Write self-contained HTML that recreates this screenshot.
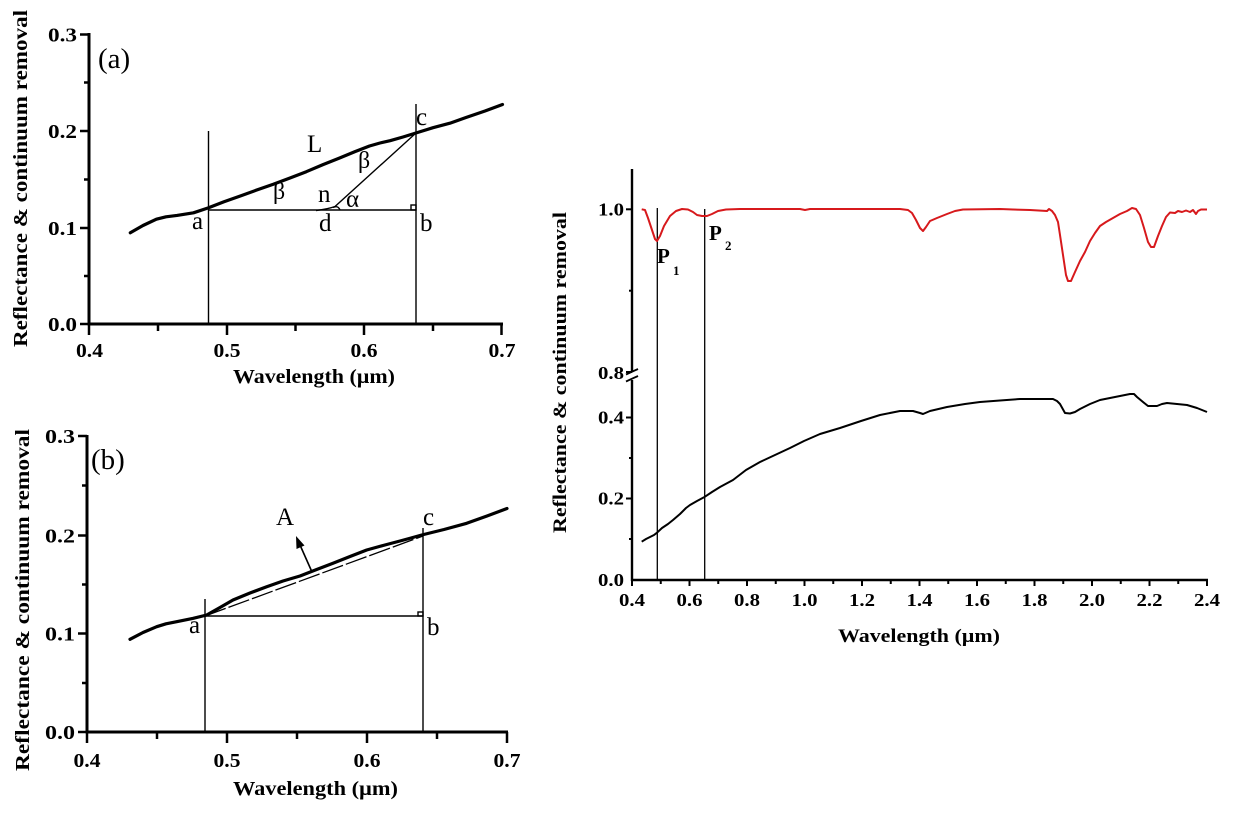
<!DOCTYPE html>
<html>
<head>
<meta charset="utf-8">
<style>
html,body{margin:0;padding:0;background:#fff;}
svg{display:block;}
.tk{font-family:"Liberation Serif",serif;font-weight:bold;}
.lb{font-family:"Liberation Serif",serif;font-weight:bold;}
.lt{font-family:"Liberation Serif",serif;}
</style>
</head>
<body>
<svg width="1240" height="816" viewBox="0 0 1240 816" xmlns="http://www.w3.org/2000/svg">
<rect width="1240" height="816" fill="#fff"/>

<!-- ================= PANEL (a) ================= -->
<g stroke="#000" fill="none">
  <!-- axes -->
  <line x1="89" y1="33" x2="89" y2="325.5" stroke-width="3"/>
  <line x1="87.5" y1="324" x2="503" y2="324" stroke-width="3"/>
  <!-- y ticks -->
  <g stroke-width="2.5">
    <line x1="80" y1="34.5" x2="89" y2="34.5"/>
    <line x1="80" y1="131" x2="89" y2="131"/>
    <line x1="80" y1="228" x2="89" y2="228"/>
    <line x1="80" y1="324" x2="89" y2="324"/>
    <line x1="84" y1="82.5" x2="89" y2="82.5"/>
    <line x1="84" y1="179.5" x2="89" y2="179.5"/>
    <line x1="84" y1="276" x2="89" y2="276"/>
  </g>
  <!-- x ticks -->
  <g stroke-width="2.5">
    <line x1="89" y1="324" x2="89" y2="335"/>
    <line x1="227" y1="324" x2="227" y2="335"/>
    <line x1="364" y1="324" x2="364" y2="335"/>
    <line x1="501.5" y1="324" x2="501.5" y2="335"/>
    <line x1="158" y1="324" x2="158" y2="331"/>
    <line x1="295.5" y1="324" x2="295.5" y2="331"/>
    <line x1="433" y1="324" x2="433" y2="331"/>
  </g>
  <!-- construction lines -->
  <g stroke-width="1.4">
    <line x1="208.5" y1="131" x2="208.5" y2="324"/>
    <line x1="416" y1="104" x2="416" y2="324"/>
    <line x1="208.5" y1="210" x2="416" y2="210"/>
    <rect x="411" y="205" width="5" height="5"/>
    <path d="M416,133 L335,206.5 Q328,209 316,210.5"/>
    <path d="M333,207.5 Q338,205 340,210"/>
  </g>
  <!-- curve -->
  <path stroke-width="3.2" stroke-linejoin="round" stroke-linecap="round"
   d="M130.3,232.8 L143,225.5 L156.4,219.2 L166,216.8 L177,215.4 L193.5,212.8 L207.9,208 L224,201.8 L240.3,196 L256,190.3 L273.3,184.3 L290,178 L306.3,171.7 L323,164.6 L339.3,158.1 L355,151.6 L369.5,146 L380,143 L390.1,140.7 L403,137 L416.3,132.9 L433,127.7 L449.9,123.2 L466,117.5 L485,111 L502.5,104.5"/>
</g>
<g class="tk" font-size="20" fill="#000" text-anchor="end">
  <text x="77" y="41.5" textLength="29" lengthAdjust="spacingAndGlyphs">0.3</text>
  <text x="77" y="138" textLength="29" lengthAdjust="spacingAndGlyphs">0.2</text>
  <text x="77" y="235" textLength="29" lengthAdjust="spacingAndGlyphs">0.1</text>
  <text x="77" y="331" textLength="29" lengthAdjust="spacingAndGlyphs">0.0</text>
</g>
<g class="tk" font-size="20" fill="#000" text-anchor="middle">
  <text x="89.5" y="357" textLength="27" lengthAdjust="spacingAndGlyphs">0.4</text>
  <text x="227" y="357" textLength="27" lengthAdjust="spacingAndGlyphs">0.5</text>
  <text x="364" y="357" textLength="27" lengthAdjust="spacingAndGlyphs">0.6</text>
  <text x="502" y="357" textLength="27" lengthAdjust="spacingAndGlyphs">0.7</text>
</g>
<text class="lb" font-size="20" x="233" y="383" textLength="162" lengthAdjust="spacingAndGlyphs">Wavelength (µm)</text>
<text class="lb" font-size="20" transform="translate(27,178.5) rotate(-90)" text-anchor="middle" textLength="337" lengthAdjust="spacingAndGlyphs">Reflectance &amp; continuum removal</text>
<g class="lt" fill="#000">
  <text x="98" y="68" font-size="29">(a)</text>
  <text x="307" y="152" font-size="25">L</text>
  <text x="416" y="125" font-size="25">c</text>
  <text x="358" y="168" font-size="24">β</text>
  <text x="273" y="199" font-size="24">β</text>
  <text x="318" y="202" font-size="25">n</text>
  <text x="346" y="207" font-size="25">α</text>
  <text x="192" y="229" font-size="25">a</text>
  <text x="319" y="231" font-size="25">d</text>
  <text x="420" y="231" font-size="25">b</text>
</g>

<!-- ================= PANEL (b) ================= -->
<g stroke="#000" fill="none">
  <line x1="87" y1="435" x2="87" y2="733.5" stroke-width="3"/>
  <line x1="85.5" y1="732" x2="508" y2="732" stroke-width="3"/>
  <g stroke-width="2.5">
    <line x1="78" y1="436" x2="87" y2="436"/>
    <line x1="78" y1="535.5" x2="87" y2="535.5"/>
    <line x1="78" y1="633.5" x2="87" y2="633.5"/>
    <line x1="78" y1="732" x2="87" y2="732"/>
    <line x1="82" y1="485.5" x2="87" y2="485.5"/>
    <line x1="82" y1="584.5" x2="87" y2="584.5"/>
    <line x1="82" y1="683" x2="87" y2="683"/>
  </g>
  <g stroke-width="2.5">
    <line x1="87" y1="732" x2="87" y2="743"/>
    <line x1="227" y1="732" x2="227" y2="743"/>
    <line x1="367" y1="732" x2="367" y2="743"/>
    <line x1="507" y1="732" x2="507" y2="743"/>
    <line x1="157" y1="732" x2="157" y2="739"/>
    <line x1="297" y1="732" x2="297" y2="739"/>
    <line x1="437" y1="732" x2="437" y2="739"/>
  </g>
  <g stroke-width="1.4">
    <line x1="205" y1="599" x2="205" y2="732"/>
    <line x1="423" y1="528" x2="423" y2="732"/>
    <line x1="205" y1="616" x2="423" y2="616"/>
    <rect x="418" y="612" width="5" height="4"/>
  </g>
  <line x1="205" y1="616" x2="423" y2="536" stroke-width="1.3" stroke-dasharray="22,3"/>
  <path stroke-width="3.2" stroke-linejoin="round" stroke-linecap="round"
   d="M130,639.3 L143,632.5 L156.7,626.7 L166,623.8 L176.7,621.7 L193.3,618.3 L206.7,615 L220,607.5 L233,600 L250,593 L266.7,586.7 L283,581 L300,576 L316,569.8 L333,563.3 L350,556.5 L366.7,550 L383,545.5 L400,541 L411,538 L421.7,535 L444,529.5 L466.7,523.3 L487,516 L507,508.5"/>
  <!-- arrow -->
  <line x1="312" y1="572" x2="300" y2="545" stroke-width="1.6"/>
</g>
<polygon points="296,536 304.5,545.5 296.5,549" fill="#000"/>
<g class="tk" font-size="20" fill="#000" text-anchor="end">
  <text x="75" y="443" textLength="30" lengthAdjust="spacingAndGlyphs">0.3</text>
  <text x="75" y="542.5" textLength="30" lengthAdjust="spacingAndGlyphs">0.2</text>
  <text x="75" y="640.5" textLength="30" lengthAdjust="spacingAndGlyphs">0.1</text>
  <text x="75" y="739" textLength="30" lengthAdjust="spacingAndGlyphs">0.0</text>
</g>
<g class="tk" font-size="20" fill="#000" text-anchor="middle">
  <text x="87" y="767" textLength="27" lengthAdjust="spacingAndGlyphs">0.4</text>
  <text x="227" y="767" textLength="27" lengthAdjust="spacingAndGlyphs">0.5</text>
  <text x="367" y="767" textLength="27" lengthAdjust="spacingAndGlyphs">0.6</text>
  <text x="507" y="767" textLength="27" lengthAdjust="spacingAndGlyphs">0.7</text>
</g>
<text class="lb" font-size="20" x="233" y="795" textLength="165" lengthAdjust="spacingAndGlyphs">Wavelength (µm)</text>
<text class="lb" font-size="20" transform="translate(29,600) rotate(-90)" text-anchor="middle" textLength="342" lengthAdjust="spacingAndGlyphs">Reflectance &amp; continuum removal</text>
<g class="lt" fill="#000">
  <text x="91" y="469" font-size="29">(b)</text>
  <text x="276" y="525" font-size="25">A</text>
  <text x="423" y="525" font-size="25">c</text>
  <text x="189" y="633" font-size="25">a</text>
  <text x="427" y="635" font-size="25">b</text>
</g>

<!-- ================= RIGHT PANEL ================= -->
<g stroke="#000" fill="none">
  <line x1="632" y1="169" x2="632" y2="371" stroke-width="2.4"/>
  <line x1="632" y1="380" x2="632" y2="581" stroke-width="2.4"/>
  <line x1="631" y1="580" x2="1208" y2="580" stroke-width="2.4"/>
  <!-- break marks -->
  <line x1="626" y1="374.5" x2="638" y2="369" stroke-width="1.8"/>
  <line x1="626" y1="381.5" x2="638" y2="376" stroke-width="1.8"/>
  <!-- y ticks -->
  <g stroke-width="2">
    <line x1="626" y1="209.3" x2="632" y2="209.3"/>
    <line x1="629" y1="290.7" x2="632" y2="290.7"/>
    <line x1="626" y1="372" x2="632" y2="372"/>
    <line x1="626" y1="417.5" x2="632" y2="417.5"/>
    <line x1="629" y1="458" x2="632" y2="458"/>
    <line x1="626" y1="498.5" x2="632" y2="498.5"/>
    <line x1="629" y1="539" x2="632" y2="539"/>
  </g>
  <!-- x ticks -->
  <g stroke-width="2">
    <line x1="632" y1="580" x2="632" y2="586"/>
    <line x1="689.5" y1="580" x2="689.5" y2="586"/>
    <line x1="747" y1="580" x2="747" y2="586"/>
    <line x1="804.5" y1="580" x2="804.5" y2="586"/>
    <line x1="862" y1="580" x2="862" y2="586"/>
    <line x1="919.5" y1="580" x2="919.5" y2="586"/>
    <line x1="977" y1="580" x2="977" y2="586"/>
    <line x1="1034.5" y1="580" x2="1034.5" y2="586"/>
    <line x1="1092" y1="580" x2="1092" y2="586"/>
    <line x1="1149.5" y1="580" x2="1149.5" y2="586"/>
    <line x1="1207" y1="580" x2="1207" y2="586"/>
    <line x1="660.75" y1="580" x2="660.75" y2="584"/>
    <line x1="718.25" y1="580" x2="718.25" y2="584"/>
    <line x1="775.75" y1="580" x2="775.75" y2="584"/>
    <line x1="833.25" y1="580" x2="833.25" y2="584"/>
    <line x1="890.75" y1="580" x2="890.75" y2="584"/>
    <line x1="948.25" y1="580" x2="948.25" y2="584"/>
    <line x1="1005.75" y1="580" x2="1005.75" y2="584"/>
    <line x1="1063.25" y1="580" x2="1063.25" y2="584"/>
    <line x1="1120.75" y1="580" x2="1120.75" y2="584"/>
    <line x1="1178.25" y1="580" x2="1178.25" y2="584"/>
  </g>
  <!-- P lines -->
  <line x1="657.3" y1="208" x2="657.3" y2="580" stroke-width="1.3"/>
  <line x1="704.7" y1="209" x2="704.7" y2="580" stroke-width="1.3"/>
  <!-- red continuum removed -->
  <polyline stroke="#d7191c" stroke-width="2" stroke-linejoin="round" points="641.7,209.3 645,210 648,218 652,230 655,239 657,241 660,236 664,226 670,216 676,211 682,209 688,209.5 693,212 697,215 702,216 707,216 712,214 718,211 726,209.5 740,209 800,209 805,210 810,209 830,209 900,209 908,210 912,213 916,220 920,228 923,231 926,227 930,221 937,218 947,214 955,211 963,209.5 1000,209 1013,209.5 1030,210 1047,211 1049,209 1052,211 1055,215 1058,222 1060,235 1063,255 1066,275 1068,281 1071,281 1075,272 1080,261 1085,252 1090,241 1095,233 1100,226 1106,222 1113,218 1120,214 1127,211 1132,208 1136,209 1140,215 1144,228 1148,242 1151,247 1154,247 1158,236 1162,226 1166,217 1170,212.5 1175,213 1178,211 1182,212 1186,210.5 1190,212 1193,210 1196,214 1198,211 1201,209.5 1207,209.5"/>
  <!-- black reflectance -->
  <polyline stroke="#000" stroke-width="2" stroke-linejoin="round" points="641.7,541.7 646,539 650,537 654,535 657,532.7 662,528 668,524 673,520 680,514 686,508 690,505 697,501 704,497.3 712,492 720,487 733,480 746,470 760,462 775,455 790,448 804,441 820,434 840,428 861,421 880,415 900,411 913,411 920,413 923,414 930,411 947,407 965,404 980,402 1000,400.5 1020,399 1053,399 1057,401 1060,404 1065,413 1070,413.5 1075,412 1080,409 1090,404 1100,400 1115,397 1130,394 1134,394 1137,397 1143,402 1148,406 1157,406 1162,404 1167,403 1177,404 1187,405 1197,408 1207,412"/>
</g>
<g class="tk" font-size="18" fill="#000" text-anchor="end">
  <text x="624" y="215.5" textLength="26" lengthAdjust="spacingAndGlyphs">1.0</text>
  <text x="624" y="379" textLength="26" lengthAdjust="spacingAndGlyphs">0.8</text>
  <text x="624" y="423.5" textLength="26" lengthAdjust="spacingAndGlyphs">0.4</text>
  <text x="624" y="504.5" textLength="26" lengthAdjust="spacingAndGlyphs">0.2</text>
  <text x="624" y="586" textLength="26" lengthAdjust="spacingAndGlyphs">0.0</text>
</g>
<g class="tk" font-size="18" fill="#000" text-anchor="middle">
  <text x="632" y="606" textLength="26" lengthAdjust="spacingAndGlyphs">0.4</text>
  <text x="689.5" y="606" textLength="26" lengthAdjust="spacingAndGlyphs">0.6</text>
  <text x="747" y="606" textLength="26" lengthAdjust="spacingAndGlyphs">0.8</text>
  <text x="804.5" y="606" textLength="26" lengthAdjust="spacingAndGlyphs">1.0</text>
  <text x="862" y="606" textLength="26" lengthAdjust="spacingAndGlyphs">1.2</text>
  <text x="919.5" y="606" textLength="26" lengthAdjust="spacingAndGlyphs">1.4</text>
  <text x="977" y="606" textLength="26" lengthAdjust="spacingAndGlyphs">1.6</text>
  <text x="1034.5" y="606" textLength="26" lengthAdjust="spacingAndGlyphs">1.8</text>
  <text x="1092" y="606" textLength="26" lengthAdjust="spacingAndGlyphs">2.0</text>
  <text x="1149.5" y="606" textLength="26" lengthAdjust="spacingAndGlyphs">2.2</text>
  <text x="1207" y="606" textLength="26" lengthAdjust="spacingAndGlyphs">2.4</text>
</g>
<text class="lb" font-size="19" x="838" y="642" textLength="162" lengthAdjust="spacingAndGlyphs">Wavelength (µm)</text>
<text class="lb" font-size="19" transform="translate(566,372.5) rotate(-90)" text-anchor="middle" textLength="321" lengthAdjust="spacingAndGlyphs">Reflectance &amp; continuum removal</text>
<g class="lb" fill="#000">
  <text x="657" y="263" font-size="21">P</text>
  <text x="673" y="275" font-size="13">1</text>
  <text x="709" y="240" font-size="21">P</text>
  <text x="725" y="250" font-size="13">2</text>
</g>
</svg>
</body>
</html>
